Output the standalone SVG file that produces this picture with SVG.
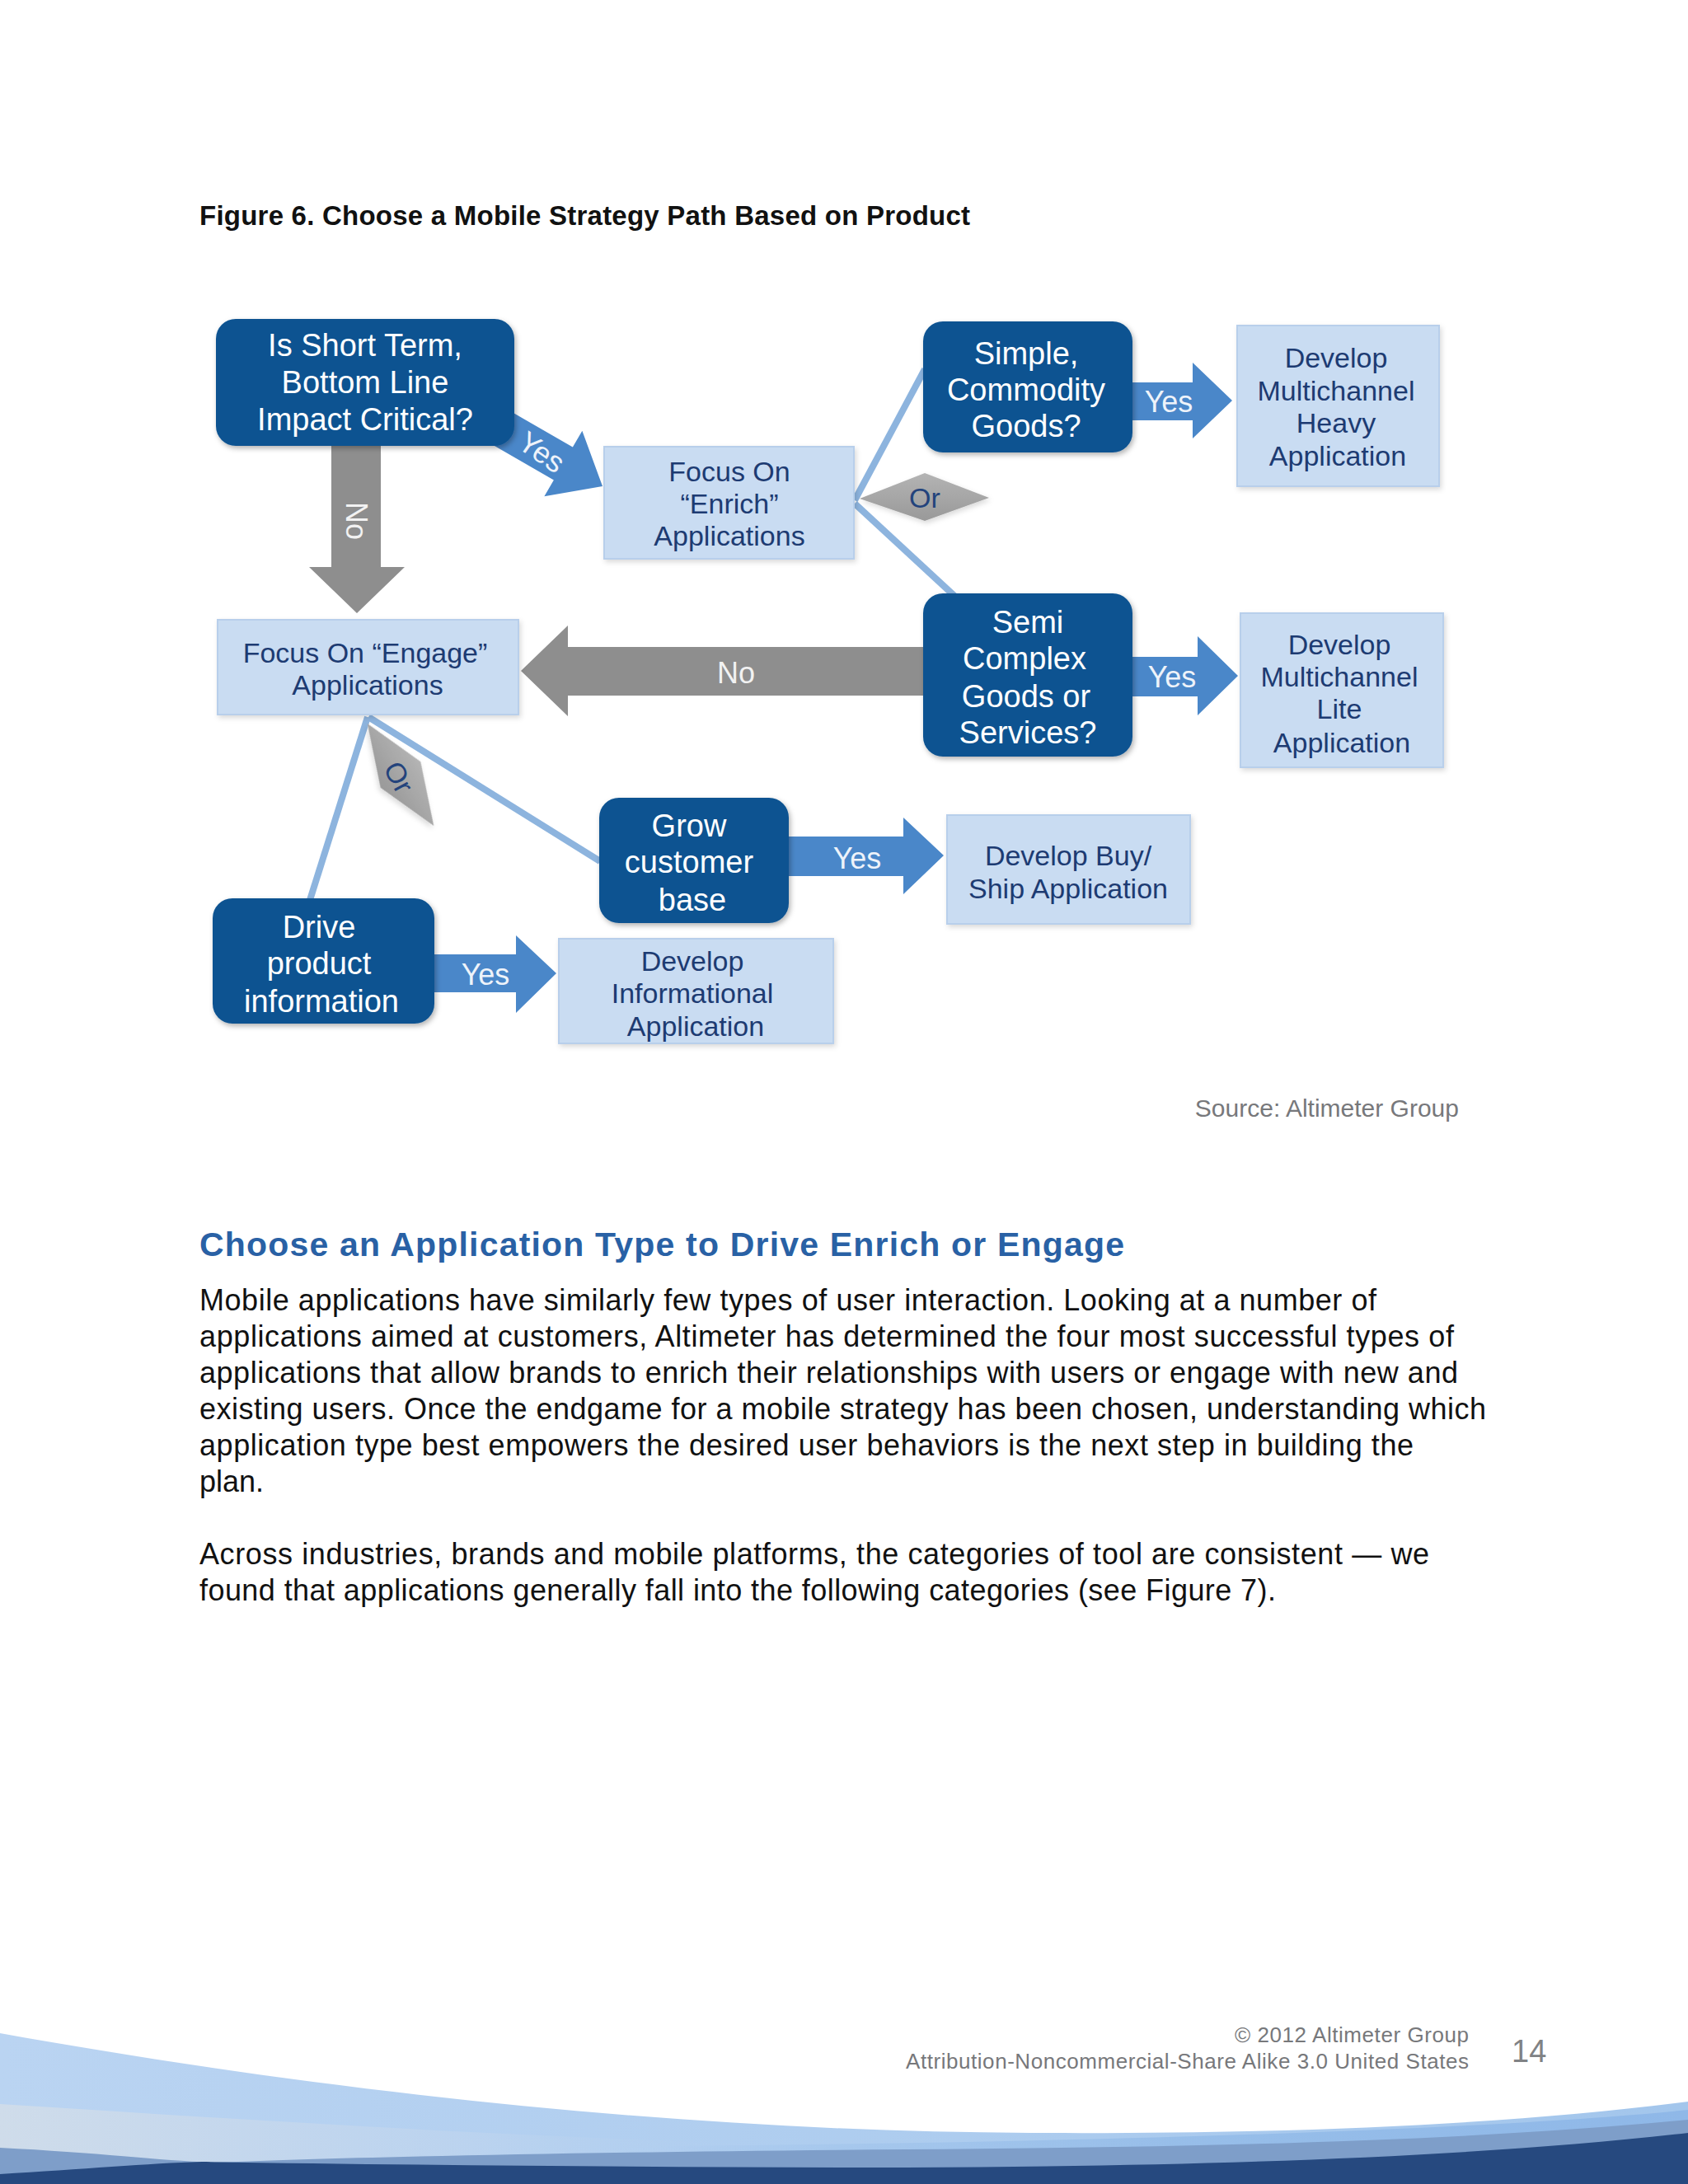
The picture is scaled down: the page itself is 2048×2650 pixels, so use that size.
<svg xmlns="http://www.w3.org/2000/svg" width="2048" height="2650" viewBox="0 0 2048 2650">
<defs>
<style>
text{font-family:"Liberation Sans",Arial,sans-serif}
.dark{fill:#0a5291;filter:url(#sh)}
.light{fill:#c9dcf2;stroke:#b8cfeb;stroke-width:2;filter:url(#sh2)}
.dt{font-size:38px;fill:#ffffff;text-anchor:middle}
.lt{font-size:34px;fill:#1d3b72;text-anchor:middle}
.blue{fill:#4a87c9}
.gray{fill:#8e8e8e}
.dia{fill:url(#dg);filter:url(#sh2)}
.ln{stroke:#8db4de;stroke-width:8;fill:none;stroke-linecap:butt}
.al{font-size:36px;fill:#eef3fa;text-anchor:middle}
.gl{font-size:36px;fill:#f2f2f2;text-anchor:middle}
.or{font-size:34px;fill:#23437c;text-anchor:middle}
.body{font-size:36px;fill:#111111}
.foot{font-size:26px;fill:#77787b;text-anchor:end}
</style>
<filter id="sh" x="-10%" y="-10%" width="125%" height="130%">
<feDropShadow dx="2" dy="3" stdDeviation="3" flood-color="#000" flood-opacity="0.3"/>
</filter>
<filter id="sh2" x="-10%" y="-10%" width="125%" height="130%">
<feDropShadow dx="2" dy="3" stdDeviation="3" flood-color="#000" flood-opacity="0.15"/>
</filter>
<linearGradient id="dg" x1="0" y1="0" x2="0" y2="1">
<stop offset="0" stop-color="#b4b4b4"/>
<stop offset="1" stop-color="#999999"/>
</linearGradient>
<linearGradient id="w1" x1="0" y1="0" x2="1" y2="0">
<stop offset="0" stop-color="#bad4f2"/>
<stop offset="1" stop-color="#a3c6ec"/>
</linearGradient>
<linearGradient id="w2" x1="0" y1="0" x2="1" y2="0">
<stop offset="0" stop-color="#cfdcea" stop-opacity="1"/>
<stop offset="0.6" stop-color="#c0d5ee" stop-opacity="0.6"/>
<stop offset="1" stop-color="#b0cdee" stop-opacity="0"/>
</linearGradient>
<linearGradient id="w3" x1="0" y1="0" x2="1" y2="0">
<stop offset="0" stop-color="#93bbe8" stop-opacity="0"/>
<stop offset="0.5" stop-color="#93bbe8" stop-opacity="0.8"/>
<stop offset="1" stop-color="#8fb8e8" stop-opacity="1"/>
</linearGradient>
</defs>
<rect width="2048" height="2650" fill="#ffffff"/>

<text x="242" y="273" font-size="33" font-weight="bold" fill="#111111" textLength="935">Figure 6. Choose a Mobile Strategy Path Based on Product</text>

<g id="connectors">
<line class="ln" x1="1037" y1="607" x2="1122" y2="448"/>
<line class="ln" x1="1037" y1="611" x2="1158" y2="723"/>
<line class="ln" x1="446" y1="870" x2="376" y2="1092"/>
<line class="ln" x1="447" y1="870" x2="728" y2="1045"/>
<polygon class="dia" points="1043,605 1122,574 1200,604 1122,632"/>
<text class="or" x="1122" y="616">Or</text>
<g transform="translate(486,940) rotate(57)">
<polygon class="dia" points="-74,0 0,-29 74,0 0,29"/>
</g>
<text class="or" transform="translate(484,943) rotate(62)" x="0" y="12">Or</text>
<g transform="translate(731,590) rotate(30)">
<polygon class="blue" points="-175,-23 -55,-23 -55,-46 0,0 -55,46 -55,23 -175,23"/>
</g>
<text class="al" transform="translate(657,549) rotate(35)" x="0" y="12">Yes</text>
<polygon class="gray" points="402,530 402,688 375,688 433,744 491,688 462,688 462,530"/>
<text class="gl" transform="translate(432,632) rotate(90)" x="0" y="12">No</text>
<polygon class="gray" points="1140,785 689,785 689,759 632,814 689,869 689,844 1140,844"/>
<text class="gl" x="893" y="829">No</text>
<polygon class="blue" points="1360,464 1447,464 1447,440 1495,486 1447,532 1447,510 1360,510"/>
<text class="al" x="1418" y="500">Yes</text>
<polygon class="blue" points="1360,797 1453,797 1453,772 1502,820 1453,868 1453,845 1360,845"/>
<text class="al" x="1422" y="834">Yes</text>
<polygon class="blue" points="945,1015 1096,1015 1096,992 1145,1038 1096,1085 1096,1063 945,1063"/>
<text class="al" x="1040" y="1054">Yes</text>
<polygon class="blue" points="515,1158 626,1158 626,1135 675,1181 626,1229 626,1204 515,1204"/>
<text class="al" x="589" y="1195">Yes</text>
</g>

<g id="n-short-term">
<rect class="dark" x="262" y="387" width="362" height="154" rx="24"/>
<text class="dt" x="443" y="432">Is Short Term,</text>
<text class="dt" x="443" y="477">Bottom Line</text>
<text class="dt" x="443" y="522">Impact Critical?</text>
</g>
<g id="n-enrich">
<rect class="light" x="733" y="542" width="303" height="136"/>
<text class="lt" x="885" y="584">Focus On</text>
<text class="lt" x="885" y="623">“Enrich”</text>
<text class="lt" x="885" y="662">Applications</text>
</g>
<g id="n-simple">
<rect class="dark" x="1120" y="390" width="254" height="159" rx="24"/>
<text class="dt" x="1245" y="442">Simple,</text>
<text class="dt" x="1245" y="486">Commodity</text>
<text class="dt" x="1245" y="530">Goods?</text>
</g>
<g id="n-heavy">
<rect class="light" x="1501" y="395" width="245" height="195"/>
<text class="lt" x="1621" y="446">Develop</text>
<text class="lt" x="1621" y="486">Multichannel</text>
<text class="lt" x="1621" y="525">Heavy</text>
<text class="lt" x="1623" y="565">Application</text>
</g>
<g id="n-semi">
<rect class="dark" x="1120" y="720" width="254" height="198" rx="24"/>
<text class="dt" x="1247" y="768">Semi</text>
<text class="dt" x="1243" y="812">Complex</text>
<text class="dt" x="1245" y="858">Goods or</text>
<text class="dt" x="1247" y="902">Services?</text>
</g>
<g id="n-lite">
<rect class="light" x="1505" y="744" width="246" height="187"/>
<text class="lt" x="1625" y="794">Develop</text>
<text class="lt" x="1625" y="833">Multichannel</text>
<text class="lt" x="1625" y="872">Lite</text>
<text class="lt" x="1628" y="913">Application</text>
</g>
<g id="n-engage">
<rect class="light" x="264" y="752" width="365" height="115"/>
<text class="lt" x="443" y="804">Focus On “Engage”</text>
<text class="lt" x="446" y="843">Applications</text>
</g>
<g id="n-grow">
<rect class="dark" x="727" y="968" width="230" height="152" rx="24"/>
<text class="dt" x="836" y="1015">Grow</text>
<text class="dt" x="836" y="1059">customer</text>
<text class="dt" x="840" y="1105">base</text>
</g>
<g id="n-buyship">
<rect class="light" x="1149" y="989" width="295" height="132"/>
<text class="lt" x="1296" y="1050">Develop Buy/</text>
<text class="lt" x="1296" y="1090">Ship Application</text>
</g>
<g id="n-drive">
<rect class="dark" x="258" y="1090" width="269" height="152" rx="24"/>
<text class="dt" x="387" y="1138">Drive</text>
<text class="dt" x="387" y="1182">product</text>
<text class="dt" x="390" y="1228">information</text>
</g>
<g id="n-informational">
<rect class="light" x="678" y="1139" width="333" height="127"/>
<text class="lt" x="840" y="1178">Develop</text>
<text class="lt" x="840" y="1217">Informational</text>
<text class="lt" x="844" y="1257">Application</text>
</g>

<text x="1770" y="1355" font-size="30" fill="#77787b" text-anchor="end">Source: Altimeter Group</text>

<text x="242" y="1524" font-size="41" font-weight="bold" fill="#2961a5" textLength="1122">Choose an Application Type to Drive Enrich or Engage</text>
<text class="body" x="242" y="1590" textLength="1428">Mobile applications have similarly few types of user interaction. Looking at a number of</text>
<text class="body" x="242" y="1634" textLength="1522">applications aimed at customers, Altimeter has determined the four most successful types of</text>
<text class="body" x="242" y="1678" textLength="1527">applications that allow brands to enrich their relationships with users or engage with new and</text>
<text class="body" x="242" y="1722" textLength="1561">existing users. Once the endgame for a mobile strategy has been chosen, understanding which</text>
<text class="body" x="242" y="1766" textLength="1473">application type best empowers the desired user behaviors is the next step in building the</text>
<text class="body" x="242" y="1810">plan.</text>
<text class="body" x="242" y="1898" textLength="1492">Across industries, brands and mobile platforms, the categories of tool are consistent — we</text>
<text class="body" x="242" y="1942" textLength="1306">found that applications generally fall into the following categories (see Figure 7).</text>

<path d="M0,2467 C350,2530 800,2586 1250,2588 C1600,2590 1850,2575 2048,2550 L2048,2650 L0,2650 Z" fill="url(#w1)"/>
<path d="M0,2553 C300,2572 600,2592 950,2602 L950,2650 L0,2650 Z" fill="url(#w2)"/>
<path d="M800,2604 C1300,2600 1800,2585 2048,2560 L2048,2650 L800,2650 Z" fill="url(#w3)"/>
<path d="M0,2606 C120,2612 200,2622 260,2624 C400,2618 700,2611 1100,2608 C1500,2605 1800,2596 2048,2572 L2048,2650 L0,2650 Z" fill="#7e9ec9"/>
<path d="M0,2638 C100,2632 180,2625 245,2623 C500,2627 800,2630 1100,2630 C1500,2628 1800,2616 2048,2588 L2048,2650 L0,2650 Z" fill="#26497f"/>

<text class="foot" x="1782" y="2478" textLength="284">© 2012 Altimeter Group</text>
<text class="foot" x="1782" y="2510" textLength="683">Attribution-Noncommercial-Share Alike 3.0 United States</text>
<text x="1834" y="2502" font-size="38" fill="#808285">14</text>
</svg>
